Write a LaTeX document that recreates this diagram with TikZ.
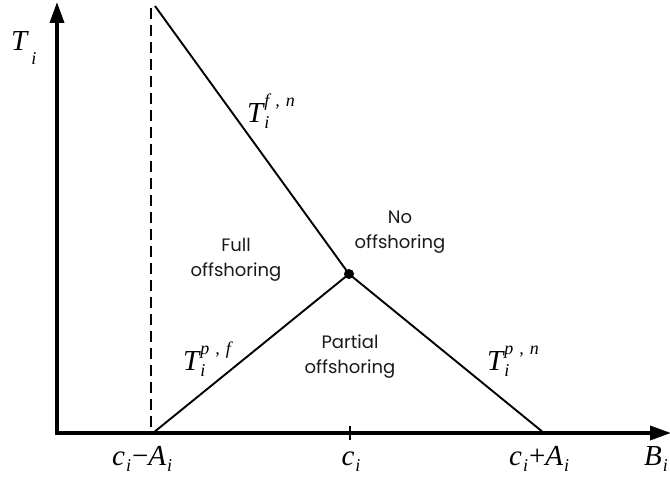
\documentclass[tikz,border=0pt]{standalone}
\usepackage{fontspec}
\setmainfont{Liberation Serif}
\newfontfamily\lblfont{Poppins}
\usetikzlibrary{arrows.meta}
\newcommand\bigit[1]{{\fontsize{29}{32}\selectfont\itshape #1}}
\newcommand\smit[1]{{\fontsize{18}{20}\selectfont\itshape #1}}
\newcommand\lsub[1]{\raisebox{-6pt}{\smit{#1}}}
\newcommand\Tlab[1]{\bigit{T}\kern1pt\rlap{\raisebox{16pt}{\smit{#1}}}\lsub{i}}
\begin{document}
\begin{tikzpicture}[x=1pt,y=-1pt,
  axis/.style={line width=3.5pt,line join=miter,{Triangle[length=21pt,width=14pt]}-{Triangle[length=21pt,width=14pt]}},
  curve/.style={line width=1.9pt},
  region/.style={font=\lblfont\fontsize{18}{25}\selectfont, align=center, text=black!90, inner sep=0pt},
  lab/.style={inner sep=0pt, anchor=base west}]
\useasboundingbox (0,0) rectangle (670,478);
\coordinate (ytop) at (57,2);
\coordinate (O) at (57,433);
\coordinate (xend) at (671,433);
\coordinate (L) at (153,433);
\coordinate (P) at (349,274);
\coordinate (R) at (544,433);
\coordinate (Top) at (155,6);
\coordinate (Dtop) at (151,8);
\coordinate (Dbot) at (151,433);
\coordinate (tk1) at (350,426);
\coordinate (tk2) at (350,440);
\draw[axis] (ytop) -- (O) -- (xend);
\draw[line width=2pt, dash pattern=on 11pt off 6pt] (Dtop) -- (Dbot);
\draw[curve] (Top) -- (P);
\draw[curve] (L) -- (P) -- (R);
\draw[line width=1.8pt] (tk1) -- (tk2);
\fill (P) circle (5);
% axis labels
\node[lab] (tlab) at (11,51) {\bigit{T}\kern4pt\raisebox{-14pt}{\smit{i}}};
\node[lab] (bl) at (644,465) {\bigit{B}\kern1pt\lsub{i}};
\node[lab] (cm) at (112,465) {\bigit{c}\kern1pt\lsub{i}\kern1pt{\fontsize{29}{32}\selectfont −}\bigit{A}\kern1pt\lsub{i}};
\node[lab, anchor=base] (cc) at (351,465) {\bigit{c}\kern1pt\lsub{i}};
\node[lab] (cp) at (509,465) {\bigit{c}\kern1pt\lsub{i}\kern1pt{\fontsize{29}{32}\selectfont +}\bigit{A}\kern1pt\lsub{i}};
% curve labels
\node[lab] (tfn) at (247,123) {\Tlab{f\,\,,\,\,n}};
\node[lab] (tpf) at (183,371) {\Tlab{p\,\,,\,\,f}};
\node[lab] (tpn) at (487,371) {\Tlab{p\,\,,\,\,n}};
% regions (anchor = baseline of last line)
\node[region, anchor=base] (full) at (236,277) {Full\\offshoring};
\node[region, anchor=base] (no) at (400,249) {No\\offshoring};
\node[region, anchor=base] (part) at (350,374) {Partial\\offshoring};
\end{tikzpicture}
\end{document}
